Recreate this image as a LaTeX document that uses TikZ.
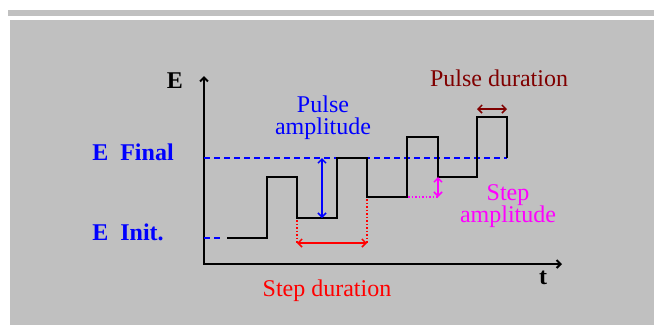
\documentclass[tikz,border=0pt]{standalone}
\usepackage{fontspec}
\setmainfont{Liberation Serif}
\usepackage{xcolor}
\usepackage{tikz}
\usetikzlibrary{arrows.meta}

\definecolor{panelgray}{HTML}{C0C0C0}
\definecolor{darkred}{HTML}{800000}
\definecolor{pink}{HTML}{FF00FF}
\tikzset{
  lbl/.style={font=\fontsize{24}{22}\selectfont, align=center, inner sep=0pt},
  wave/.style={line width=2pt, black},
  level/.style={blue, line width=2pt, dash pattern=on 6pt off 4pt},
  guide/.style={line width=1.5pt, dotted},
  dim/.style={line width=1.5pt, {Straight Barb[length=4pt,width=8pt]}-{Straight Barb[length=4pt,width=8pt]}}
}

\begin{document}
\begin{tikzpicture}[x=1pt,y=-1pt]
%背景
\useasboundingbox (0,0) rectangle (654,325);
\fill[white] (0,0) rectangle (654,325);
\fill[panelgray] (8,10) rectangle (654,16);
\fill[panelgray] (10,20) rectangle (654,325);

%坐标轴
\coordinate (orig) at (204,264);
\coordinate (ytop) at (204,76);
\coordinate (xend) at (562,264);
\draw[line width=2pt, {Straight Barb[length=4pt,width=8pt]}-{Straight Barb[length=4pt,width=8pt]}] (ytop) |- (xend);
\node[lbl] (E) at (175,81) {\textbf{E}};
\node[lbl] (t) at (543,278) {\textbf{t}};

%电位标记
\node[lbl, blue] (efinal) at (133,152) {\textbf{E\ \ Final}};
\node[lbl, blue] (einit) at (128,232) {\textbf{E\ \ Init.}};
\draw[level] (204,158) -- (507,158);
\draw[level] (204,238) -- (223,238);

%波形
\draw[wave] (227,238) -| (267,177) -| (297,218) -| (337,158) -| (367,197)
  -| (407,137) -| (438,177) -| (477,117) -| (507,158);

%脉冲幅度
\coordinate (pa1) at (322,158);
\coordinate (pa2) at (322,218);
\draw[dim, blue] (pa1) -- (pa2);
\node[lbl, blue] (pamp) at (323,118) {Pulse\\amplitude};

%阶跃时长
\coordinate (sd1) at (297,243);
\coordinate (sd2) at (367,243);
\draw[guide, red] (297,220) -- (sd1);
\draw[guide, red] (367,199) -- (sd2);
\draw[dim, red] (sd1) -- (sd2);
\node[lbl, red] (sdur) at (327,291) {Step duration};

%阶跃幅度
\coordinate (sa1) at (438,177);
\coordinate (sa2) at (438,197);
\draw[guide, pink] (408,197) -- (sa2);
\draw[dim, pink] (sa1) -- (sa2);
\node[lbl, pink] (samp) at (508,206) {Step\\amplitude};

%脉冲时长
\coordinate (pd1) at (477,109);
\coordinate (pd2) at (507,109);
\draw[dim, darkred] (pd1) -- (pd2);
\node[lbl, darkred] (pdur) at (499,78) {Pulse duration};
\end{tikzpicture}
\end{document}
